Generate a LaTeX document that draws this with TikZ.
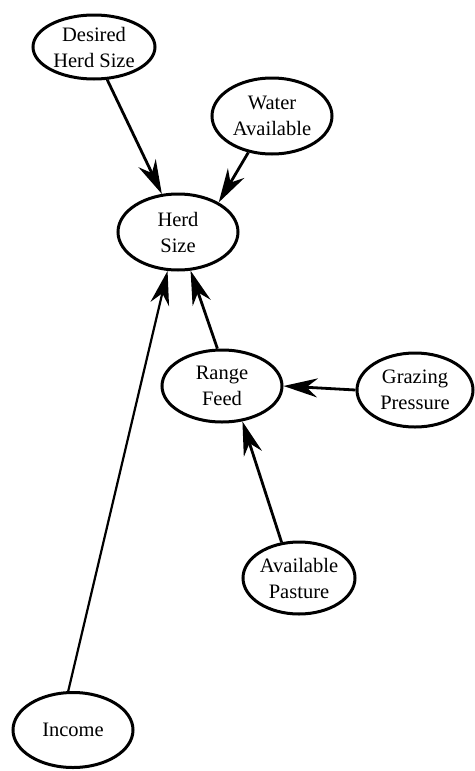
\documentclass[tikz,border=0pt]{standalone}
\usepackage{fontspec}
\setmainfont{Liberation Serif}
\usepackage{tikz}
\usetikzlibrary{shapes.geometric, arrows.meta}

\begin{document}
\begin{tikzpicture}[
    x=1pt, y=-1pt,
    var/.style={ellipse, draw, line width=3pt, inner sep=0pt, align=center,
        minimum width=120pt, minimum height=74pt,
        font=\fontsize{20.5}{26}\selectfont},
    link/.style={-{Stealth[length=34pt, width=19pt, inset=11pt]}, line width=2.8pt},
    ]
    \useasboundingbox (0,0) rectangle (474,771);

    % stock and its inputs
    \node[var, minimum width=122pt, minimum height=64pt] (desired) at (94,47) {Desired\\Herd Size};
    \node[var, minimum height=76pt] (water) at (272,116) {Water\\Available};
    \node[var, minimum height=76pt] (herd) at (178,232) {Herd\\Size};

    % feed side
    \node[var, minimum height=72pt] (feed) at (222,386) {Range\\Feed};
    \node[var, minimum width=116pt] (grazing) at (415,390) {Grazing\\Pressure};
    \node[var, minimum width=112pt, minimum height=72pt] (pasture) at (299,578) {Available\\Pasture};

    \node[var, minimum height=75pt] (income) at (73,730) {Income};

    \draw[link] (desired.292) to (herd.113);
    \draw[link] (water.237) to (herd.36);
    \draw[link, line width=2.2pt] (income.97) to (herd.255);
    \draw[link] (feed.97) to (herd.288);
    \draw[link] (grazing.west) to (feed.east);
    \draw[link] (pasture.116) to (feed.300);
\end{tikzpicture}
\end{document}
